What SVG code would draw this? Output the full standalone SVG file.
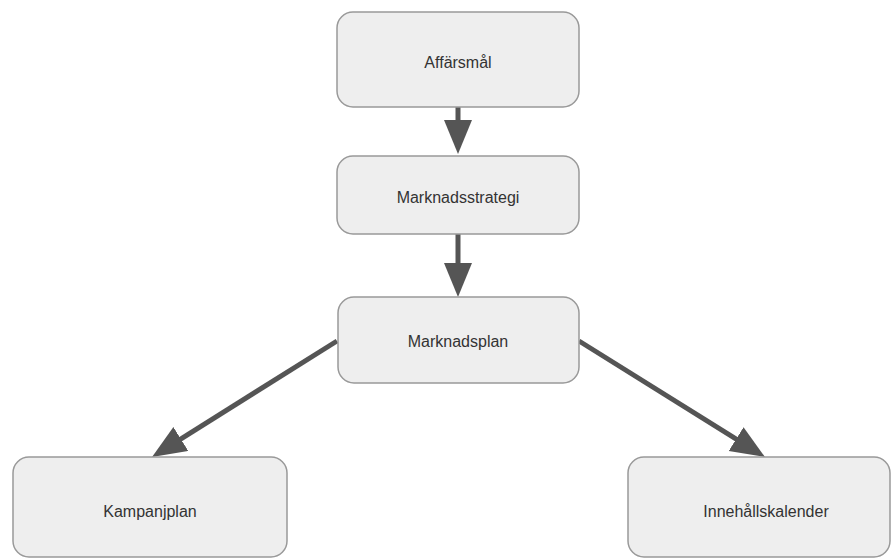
<svg xmlns="http://www.w3.org/2000/svg" width="892" height="560" viewBox="0 0 892 560">
<style>
.box{fill:#eeeeee;stroke:#999999;stroke-width:1.5}
.lbl{font-family:"Liberation Sans",Arial,sans-serif;font-size:16px;fill:#333333;text-anchor:middle;dominant-baseline:central}
.edge{stroke:#555555;stroke-width:5;fill:none;marker-end:url(#ah)}
</style>
<defs>
<marker id="ah" markerUnits="userSpaceOnUse" markerWidth="36" markerHeight="30" refX="20" refY="14" orient="auto">
<path d="M0,0 L34,14 L0,28 z" fill="#555555"/>
</marker>
</defs>
<rect width="892" height="560" fill="#ffffff"/>
<g id="connectors">
<line class="edge" x1="458" y1="107" x2="458" y2="140"/>
<line class="edge" x1="458" y1="234" x2="458" y2="283"/>
<line class="edge" x1="337" y1="341" x2="163.9" y2="449.6"/>
<line class="edge" x1="579" y1="341" x2="753.1" y2="449.6"/>
</g>
<g id="affarsmal">
<rect class="box" x="337" y="12" width="242" height="95" rx="16"/>
<text class="lbl" x="458" y="62">Affärsmål</text>
</g>
<g id="marknadsstrategi">
<rect class="box" x="337" y="156" width="242" height="78" rx="16"/>
<text class="lbl" x="458" y="197">Marknadsstrategi</text>
</g>
<g id="marknadsplan">
<rect class="box" x="338" y="297" width="241" height="86" rx="16"/>
<text class="lbl" x="458" y="341">Marknadsplan</text>
</g>
<g id="kampanjplan">
<rect class="box" x="13" y="457" width="274" height="100" rx="16"/>
<text class="lbl" x="150" y="511">Kampanjplan</text>
</g>
<g id="innehallskalender">
<rect class="box" x="628" y="457" width="262" height="100" rx="16"/>
<text class="lbl" x="766" y="511">Innehållskalender</text>
</g>
</svg>
